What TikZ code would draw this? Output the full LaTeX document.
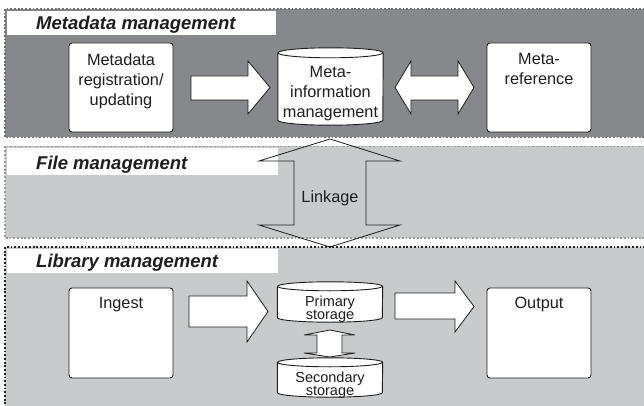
\documentclass[tikz,border=0pt]{standalone}
\usepackage{fontspec}
\setmainfont{Liberation Sans}
\usetikzlibrary{calc}
\definecolor{darkpanel}{RGB}{135,136,140}
\definecolor{lightpanel}{RGB}{201,202,204}
\definecolor{dotA}{RGB}{110,110,113}
\definecolor{dotB}{RGB}{155,155,157}
\definecolor{dotC}{RGB}{35,35,35}
\definecolor{ink}{RGB}{30,30,30}
\begin{document}
\begin{tikzpicture}[x=1pt,y=-1pt,
  paneldots/.style={line width=1.6pt, dash pattern=on 1.8pt off 1.9pt},
  titletext/.style={font=\fontsize{18.5}{20}\selectfont\bfseries\itshape, text=ink, inner sep=0pt, anchor=base west},
  bodytext/.style={font=\fontsize{16.3}{20}\selectfont, text=ink, inner sep=0pt, align=center},
  smalltext/.style={font=\fontsize{14.5}{13.3}\selectfont, text=ink, inner sep=0pt, align=center},
  roundbox/.style={draw=ink, line width=0.9pt, fill=white, rounded corners=3pt, inner sep=0pt},
  cylholder/.style={inner sep=0pt, minimum width=105pt},
  cylpath/.style={draw=ink, line width=0.9pt, fill=white},
  blockarrow/.style={draw=ink, line width=0.8pt, fill=white, line join=miter},
  linkarrow/.style={draw=ink, line width=0.8pt, line join=miter}]
\useasboundingbox (0,0) rectangle (644,406);
\clip (0,0) rectangle (644,406);

% panels
\path[fill=darkpanel, draw=dotA, paneldots] (5,9) rectangle (670,137.5);
\path[fill=lightpanel, draw=dotB, paneldots] (5,146.5) rectangle (670,238);
\path[fill=lightpanel, draw=dotC, paneldots, line width=2pt] (5,247) rectangle (670,420);

% title bars
\fill[white] (7,11) rectangle (276,35);
\fill[white] (7,148.5) rectangle (278,175);
\fill[white] (7,249) rectangle (278,273);
\node[titletext] (t1) at (36,30) {Metadata management};
\node[titletext] (t2) at (36,169) {File management};
\node[titletext] (t3) at (36,267) {Library management};

% linkage arrow
\draw[linkarrow] (330,139) -- (400,161) -- (366,161) -- (366,225) -- (400,225) -- (330,247)
  -- (259,225) -- (294,225) -- (294,161) -- (259,161) -- cycle;
\node[bodytext, anchor=base] (link) at (330,202.3) {Linkage};

% metadata boxes
\node[roundbox, minimum width=104pt, minimum height=89pt] (reg) at (121,87.5) {};
\node[bodytext, anchor=north] (regt) at ($(reg.north)+(0,10.5)$) {Metadata\\registration/\\updating};
\node[roundbox, minimum width=104pt, minimum height=89pt] (ref) at (539,87.5) {};
\node[bodytext, anchor=north] (reft) at ($(ref.north)+(0,10.5)$) {Meta-\\reference};

% meta-information cylinder
\node[cylholder, minimum height=67pt] (meta) at (330.5,86.5) {};
\path[cylpath] (meta.north west) -- (meta.south west)
  arc[start angle=180, end angle=360, x radius=52.5pt, y radius=5pt]
  -- (meta.north east) arc[start angle=0, end angle=180, x radius=52.5pt, y radius=5pt] -- cycle;
\draw[ink, line width=0.9pt] (meta.north west) arc[start angle=180, end angle=360, x radius=52.5pt, y radius=5pt];
\node[bodytext, anchor=north] (metat) at (330.5,66.5) {Meta-\\information\\management};

% arrows metadata
\path[blockarrow] (191,76) -- (248,76) -- (248,61) -- (270,87.5) -- (248,114) -- (248,100) -- (191,100) -- cycle;
\path[blockarrow] (395,87.5) -- (411,61) -- (411,76) -- (458,76) -- (458,61) -- (474,87.5)
  -- (458,114) -- (458,100) -- (411,100) -- (411,114) -- cycle;

% library boxes
\node[roundbox, minimum width=104pt, minimum height=90pt] (ing) at (121,333) {};
\node[bodytext, anchor=north] (ingt) at ($(ing.north)+(0,9.8)$) {Ingest};
\node[roundbox, minimum width=104pt, minimum height=90pt] (out) at (539,333) {};
\node[bodytext, anchor=north] (outt) at ($(out.north)+(0,9.8)$) {Output};

% storage cylinders
\node[cylholder, minimum height=31pt] (prim) at (330,302) {};
\path[cylpath] (prim.north west) -- (prim.south west)
  arc[start angle=180, end angle=360, x radius=52.5pt, y radius=4.5pt]
  -- (prim.north east) arc[start angle=0, end angle=180, x radius=52.5pt, y radius=4.5pt] -- cycle;
\draw[ink, line width=0.9pt] (prim.north west) arc[start angle=180, end angle=360, x radius=52.5pt, y radius=4.5pt];
\node[smalltext, anchor=north] (primt) at (330,295.5) {Primary\\storage};

\node[cylholder, minimum height=30pt] (sec) at (330,377.5) {};
\path[cylpath] (sec.north west) -- (sec.south west)
  arc[start angle=180, end angle=360, x radius=52.5pt, y radius=4.5pt]
  -- (sec.north east) arc[start angle=0, end angle=180, x radius=52.5pt, y radius=4.5pt] -- cycle;
\draw[ink, line width=0.9pt] (sec.north west) arc[start angle=180, end angle=360, x radius=52.5pt, y radius=4.5pt];
\node[smalltext, anchor=north] (sect) at (330,371.8) {Secondary\\storage};

% arrows library
\path[blockarrow] (189,296) -- (247,296) -- (247,281) -- (268,311.5) -- (247,342) -- (247,327) -- (189,327) -- cycle;
\path[blockarrow] (395,293) -- (455,293) -- (455,281) -- (474,306.5) -- (455,332) -- (455,319) -- (395,319) -- cycle;
\path[blockarrow] (330,330) -- (355,335) -- (342,335) -- (342,353) -- (355,353) -- (330,357)
  -- (304,353) -- (317,353) -- (317,335) -- (304,335) -- cycle;
\end{tikzpicture}
\end{document}
